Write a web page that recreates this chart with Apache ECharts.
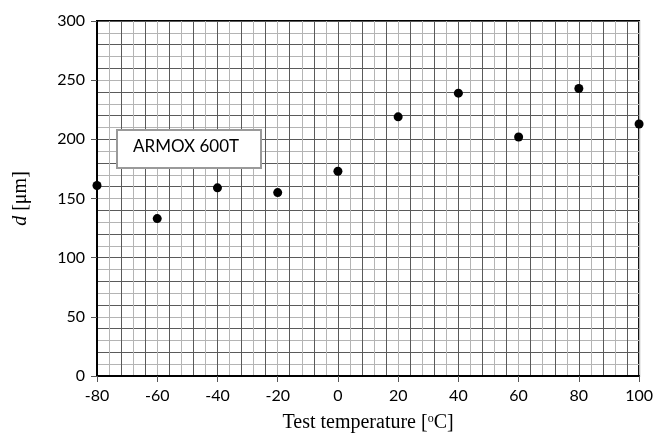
<!DOCTYPE html>
<html>
<head>
<meta charset="utf-8">
<script src="https://cdn.jsdelivr.net/npm/echarts@6/dist/echarts.min.js"></script>
<style>
  html, body { margin: 0; padding: 0; background: #fff; }
  #main { width: 656px; height: 442px; }
</style>
</head>
<body>
<div id="main"></div>
<script>
  // test temperature [oC] and measured d [um]
  var temps = [-80, -60, -40, -20, 0, 20, 40, 60, 80, 100];
  var dValues = [161, 133, 159, 155, 173, 219, 239, 202, 243, 213];
  var boxLabel = 'ARMOX 600T';

  var labelFont = 'Lato, "Open Sans", sans-serif';
  var serifFont = '"Liberation Serif", "DejaVu Serif", serif';

  var myChart = echarts.init(document.getElementById('main'));
  var option = {
    animation: false,
    backgroundColor: '#fff',
    grid: {
      left: 97, right: 16, top: 21, bottom: 66,
      show: true, borderColor: '#000', borderWidth: 2, backgroundColor: 'transparent'
    },
    xAxis: [{
      type: 'value', min: -80, max: 100, interval: 20,
      axisLine: { show: true, onZero: false, lineStyle: { color: '#000', width: 2 } },
      axisTick: { show: true, length: 6, lineStyle: { color: '#555' } },
      axisLabel: { color: '#000', fontSize: 16, fontFamily: labelFont, margin: 12 },
      splitLine: { show: false },
      name: 'Test temperature [{s|o}C]',
      nameLocation: 'middle', nameGap: 37,
      nameTextStyle: {
        color: '#000', fontSize: 20, fontFamily: serifFont,
        rich: { s: { fontSize: 12, fontFamily: serifFont, verticalAlign: 'top', padding: [0, 0, 7, 0] } }
      },
      z: 5
    }, {
      // fine grid, every 4 units
      type: 'value', min: -80, max: 100, interval: 4, position: 'bottom',
      axisLine: { show: false }, axisTick: { show: false }, axisLabel: { show: false },
      splitLine: { show: true, lineStyle: { color: ['#5a5a5a', '#b4b4b4'], width: 1 } },
      z: 1
    }],
    yAxis: [{
      type: 'value', min: 0, max: 300, interval: 50,
      axisLine: { show: true, onZero: false, lineStyle: { color: '#000', width: 2 } },
      axisTick: { show: true, length: 6, lineStyle: { color: '#555' } },
      axisLabel: { color: '#000', fontSize: 16, fontFamily: labelFont, margin: 12 },
      splitLine: { show: false },
      name: '{i|d} [μm]',
      nameLocation: 'middle', nameGap: 66, nameRotate: 90,
      nameTextStyle: {
        color: '#000', fontSize: 20, fontFamily: serifFont,
        rich: { i: { fontSize: 20, fontFamily: serifFont, fontStyle: 'italic' } }
      },
      z: 5
    }, {
      // fine grid, every 10 units
      type: 'value', min: 0, max: 300, interval: 10, position: 'left',
      axisLine: { show: false }, axisTick: { show: false }, axisLabel: { show: false },
      splitLine: { show: true, lineStyle: { color: ['#5a5a5a', '#b4b4b4'], width: 1 } },
      z: 1
    }],
    graphic: [{
      type: 'rect', left: 116, top: 129, z: 100,
      shape: { x: 0, y: 0, width: 144, height: 38 },
      style: { fill: '#fff', stroke: '#9a9a9a', lineWidth: 2 }
    }, {
      type: 'text', left: 133, top: 138, z: 101,
      style: { text: boxLabel, fill: '#000', font: '17px ' + labelFont }
    }],
    series: [{
      name: 'ARMOX 600T',
      type: 'scatter',
      symbol: 'circle', symbolSize: 9,
      itemStyle: { color: '#000', opacity: 1 },
      data: temps.map(function (t, i) { return [t, dValues[i]]; }),
      z: 20
    }]
  };
  myChart.setOption(option);
</script>
</body>
</html>
